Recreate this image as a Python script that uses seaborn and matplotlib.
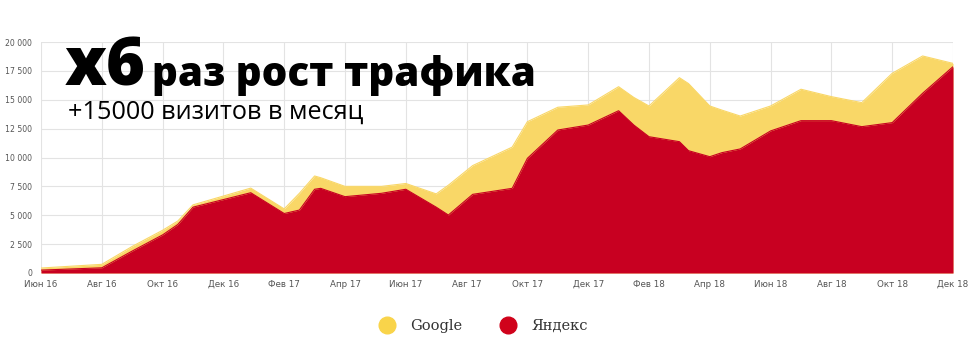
import matplotlib
matplotlib.use("Agg")
import matplotlib.pyplot as plt
from matplotlib.lines import Line2D
import seaborn as sns
import pandas as pd

# months since June 2016 (vertex positions)
month_pos = [0, 2, 3, 4, 4.5, 5, 6.9, 8, 8.5, 9, 9.2, 10, 11.2, 12, 13, 13.4, 14.2, 15.5,
             16, 17, 18, 19, 19.5, 20, 21, 21.3, 22, 22.4, 23, 24, 25, 26, 27, 28, 29, 30]
google = [430, 750, 2300, 3700, 4500, 5900, 7350, 5550, 6900, 8400, 8250, 7500, 7500, 7750,
          6850, 7600, 9300, 10900, 13100, 14350, 14550, 16130, 15200, 14460, 16910, 16400,
          14460, 14100, 13590, 14460, 15910, 15270, 14750, 17290, 18790, 18150]
yandex = [250, 450, 1900, 3300, 4200, 5700, 6950, 5150, 5450, 7250, 7330, 6610, 6900, 7250,
          5700, 5020, 6810, 7330, 9930, 12380, 12810, 14050, 12810, 11800, 11370, 10590,
          10070, 10420, 10740, 12300, 13190, 13190, 12670, 13020, 15560, 17860]

tick_pos = list(range(0, 31, 2))
tick_labels = ["Июн 16", "Авг 16", "Окт 16", "Дек 16", "Фев 17", "Апр 17", "Июн 17", "Авг 17",
               "Окт 17", "Дек 17", "Фев 18", "Апр 18", "Июн 18", "Авг 18", "Окт 18", "Дек 18"]
ytick_vals = [0, 2500, 5000, 7500, 10000, 12500, 15000, 17500, 20000]
ytick_labels = ["0", "2 500", "5 000", "7 500", "10 000", "12 500", "15 000", "17 500", "20 000"]

title_big = "x6"
title_rest = "раз рост трафика"
subtitle = "+15000 визитов в месяц"
series_names = ["Google", "Яндекс"]

YELLOW = "#F9D767"
RED = "#C80021"
YELLOW_MK = "#F9D44A"
RED_MK = "#D0021B"

df = pd.DataFrame({"m": month_pos, "Google": google, "Яндекс": yandex})

sns.set_style("white")
plt.rcParams["font.family"] = ["DejaVu Sans"]

fig = plt.figure(figsize=(9.74, 3.5), dpi=100)
ax = fig.add_axes([41 / 974, 1 - 273 / 350, (953 - 41) / 974, (273 - 42) / 350])

sns.lineplot(data=df, x="m", y="Google", ax=ax, color=YELLOW, linewidth=0.8)
ax.fill_between(df["m"], 0, df["Google"], color=YELLOW, linewidth=0)
sns.lineplot(data=df, x="m", y="Яндекс", ax=ax, color=RED, linewidth=0.8)
ax.fill_between(df["m"], 0, df["Яндекс"], color=RED, linewidth=0)

ax.set_xlim(0, 30)
ax.set_ylim(0, 20000)
ax.set_xticks(tick_pos)
ax.set_xticklabels(tick_labels)
ax.set_yticks(ytick_vals)
ax.set_yticklabels(ytick_labels)
ax.set_xlabel("")
ax.set_ylabel("")
ax.grid(True, color="#E3E3E3", linewidth=0.8)
ax.set_axisbelow(True)
for s in ax.spines.values():
    s.set_visible(False)
ax.tick_params(axis="x", length=0, labelsize=6.3, colors="#555555", pad=5)
ax.tick_params(axis="y", length=0, labelsize=5.6, colors="#555555", pad=6.5)

fig.text(65 / 974, 1 - 86 / 350, title_big, fontsize=48, fontweight="heavy",
         family=["Open Sans", "DejaVu Sans"], color="black", ha="left", va="baseline")
fig.text(152 / 974, 1 - 86 / 350, title_rest, fontsize=29, fontweight="heavy",
         family=["Open Sans", "DejaVu Sans"], color="black", ha="left", va="baseline")
fig.text(68 / 974, 1 - 119 / 350, subtitle, fontsize=18.2,
         family=["Open Sans", "DejaVu Sans"], color="black", ha="left", va="baseline")

handles = [Line2D([0], [0], marker="o", linestyle="", markersize=12,
                  markerfacecolor=YELLOW_MK, markeredgecolor=YELLOW_MK),
           Line2D([0], [0], marker="o", linestyle="", markersize=12,
                  markerfacecolor=RED_MK, markeredgecolor=RED_MK)]
fig.legend(handles, series_names, loc="center", bbox_to_anchor=(480 / 974, 1 - 326 / 350),
           ncol=2, frameon=False, columnspacing=2.15, handletextpad=0.6,
           prop={"family": "DejaVu Serif", "size": 10.5}, labelcolor="#333333")

fig.savefig("out.png", dpi=100)
